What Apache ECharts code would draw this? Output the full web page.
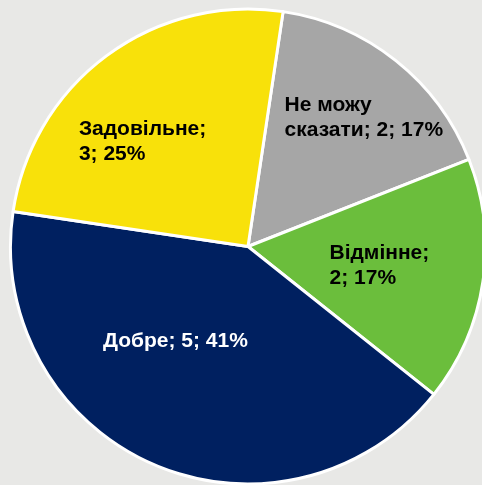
<!DOCTYPE html>
<html>
<head>
<meta charset="utf-8">
<script src="https://cdn.jsdelivr.net/npm/echarts@6/dist/echarts.min.js"></script>
<style>
html,body{margin:0;padding:0;background:#e8e8e6;}
#chart{width:482px;height:485px;}
</style>
</head>
<body>
<div id="chart"></div>
<script>
// Data
var categories = ['Не можу сказати', 'Відмінне', 'Добре', 'Задовільне'];
var values = [2, 2, 5, 3];
var percentLabels = ['17%', '17%', '41%', '25%'];
// how each label is split across lines
var labelLines = [
  ['Не можу', 'сказати; 2; 17%'],
  ['Відмінне;', '2; 17%'],
  ['Добре; 5; 41%'],
  ['Задовільне;', '3; 25%']
];

var colors = ['#a6a6a6', '#6bbe3c', '#002060', '#f8e10a'];
var textColors = ['#000000', '#000000', '#ffffff', '#000000'];
var labelShift = [[40, -34], [11, 1], [-24, -17], [-33, -7]];

var chart = echarts.init(document.getElementById('chart'), null, {renderer: 'canvas'});
var data = categories.map(function (c, i) {
  return {
    name: c,
    value: values[i],
    itemStyle: {color: colors[i]},
    label: {
      rich: {
        t: {
          align: 'left',
          color: textColors[i],
          fontFamily: 'Liberation Sans, Arial, sans-serif',
          fontWeight: 'bold',
          fontSize: 21,
          lineHeight: 25
        }
      }
    }
  };
});

chart.setOption({
  backgroundColor: '#e8e8e6',
  animation: false,
  series: [{
    type: 'pie',
    center: [248, 246.5],
    radius: [0, 237.5],
    startAngle: 81.5,
    clockwise: true,
    avoidLabelOverlap: false,
    itemStyle: {borderColor: '#ffffff', borderWidth: 3},
    label: {
      show: true,
      position: 'inside',
      formatter: function (p) {
        var i = p.dataIndex;
        return labelLines[i].map(function (l) { return '{t|' + l + '}'; }).join('\n');
      }
    },
    labelLine: {show: false},
    labelLayout: function (p) {
      var s = labelShift[p.dataIndex];
      return {dx: s[0], dy: s[1]};
    },
    emphasis: {disabled: true},
    data: data
  }]
});
</script>
</body>
</html>
